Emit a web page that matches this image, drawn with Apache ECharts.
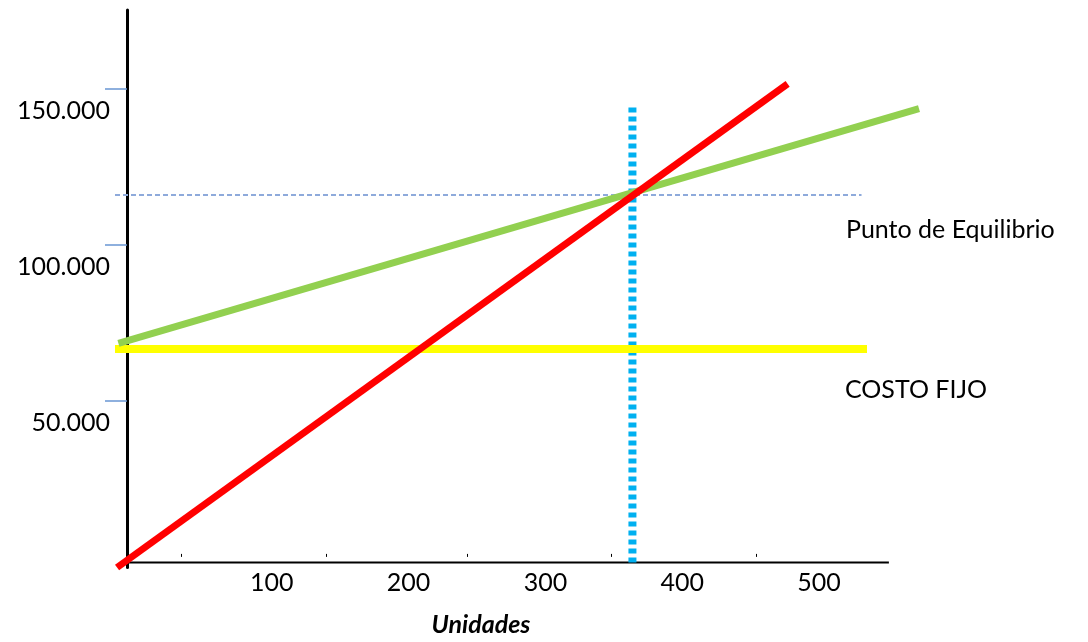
<!DOCTYPE html>
<html>
<head>
<meta charset="utf-8">
<script src="https://cdn.jsdelivr.net/npm/echarts@6/dist/echarts.min.js"></script>
<style>
html,body{margin:0;padding:0;background:#fff;}
#chart{width:1088px;height:642px;}
</style>
</head>
<body>
<div id="chart"></div>
<script>
// ---- data ----
const xLabelValues = [100, 200, 300, 400, 500];
const xTickValues = [34, 140, 243, 348, 454];
const yLabelValues = [50000, 100000, 150000];

// Ventas (red): [unidades, valor]
const ventas = [[-13, -3400], [477, 151700]];
// Costo total (green)
const costoTotal = [[-12, 68450], [573, 143800]];
// Costo fijo (yellow)
const costoFijo = [[-14.5, 66700], [535, 66700]];
// Punto de equilibrio: vertical (blue dotted) and horizontal (dashed)
const equilibrioVertical = [[363.6, -1800], [363.6, 144100]];
const equilibrioHorizontal = [[-14.5, 116100], [531, 116100]];
// Drawn x axis baseline (units range, at value level of the axis)
const xAxisBaseline = [[-6, -1800], [551, -1800]];

const annotations = ['Punto de Equilibrio', 'COSTO FIJO'];
const xAxisName = 'Unidades';

const FONT = 'Lato, "Open Sans", sans-serif';

function fmtThousands(v) {
  return String(v).replace(/\B(?=(\d{3})+(?!\d))/g, '.');
}

function lineSeries(name, data, color, width, type, z) {
  return {
    name: name,
    type: 'line',
    data: data,
    symbol: 'none',
    clip: false,
    silent: true,
    z: z,
    lineStyle: { color: color, width: width, type: type || 'solid', cap: 'butt' }
  };
}

const chart = echarts.init(document.getElementById('chart'), null, { renderer: 'canvas' });
chart.setOption({
  animation: false,
  backgroundColor: '#ffffff',
  grid: { left: 115, right: 169, top: 10, bottom: 67, containLabel: false },
  xAxis: {
    type: 'value',
    min: -14.5,
    max: 573,
    offset: -5,
    name: xAxisName,
    nameLocation: 'middle',
    nameGap: 62,
    nameTextStyle: {
      fontFamily: FONT, fontSize: 25, fontWeight: 'bold', fontStyle: 'italic',
      color: '#000', align: 'center', verticalAlign: 'middle', padding: [0, 72, 0, 0]
    },
    axisLine: { show: false },
    axisTick: { show: true, inside: true, length: 3, customValues: xTickValues, lineStyle: { color: '#000', width: 1 } },
    axisLabel: {
      show: true, customValues: xLabelValues, margin: 8,
      fontFamily: FONT, fontSize: 25, color: '#000'
    },
    splitLine: { show: false }
  },
  yAxis: {
    type: 'value',
    min: -3400,
    max: 175400,
    offset: -12,
    axisLine: { show: true, onZero: false, lineStyle: { color: '#000', width: 3 } },
    axisTick: { show: true, length: 22, customValues: yLabelValues, lineStyle: { color: '#6a97d4', width: 1.5 } },
    axisLabel: {
      show: true, customValues: yLabelValues, margin: 17,
      fontFamily: FONT, fontSize: 25, color: '#000',
      verticalAlign: 'top', lineHeight: 44,
      formatter: fmtThousands
    },
    splitLine: { show: false }
  },
  graphic: [
    { type: 'text', x: 846, y: 230, style: { text: annotations[0], font: '25px ' + FONT, fill: '#000', align: 'left', verticalAlign: 'middle' } },
    { type: 'text', x: 845, y: 390, style: { text: annotations[1], font: '25px ' + FONT, fill: '#000', align: 'left', verticalAlign: 'middle' } }
  ],
  series: [
    lineSeries('Eje X', xAxisBaseline, '#000000', 2, 'solid', 1),
    lineSeries('Equilibrio horizontal', equilibrioHorizontal, '#8eaadb', 2, [5, 3], 2),
    lineSeries('Equilibrio vertical', equilibrioVertical, '#00b0f0', 8, [5, 4], 3),
    lineSeries('Costo fijo', costoFijo, '#ffff00', 8, 'solid', 4),
    lineSeries('Costo total', costoTotal, '#92d050', 7, 'solid', 5),
    lineSeries('Ventas', ventas, '#ff0000', 7, 'solid', 6)
  ]
});
</script>
</body>
</html>
